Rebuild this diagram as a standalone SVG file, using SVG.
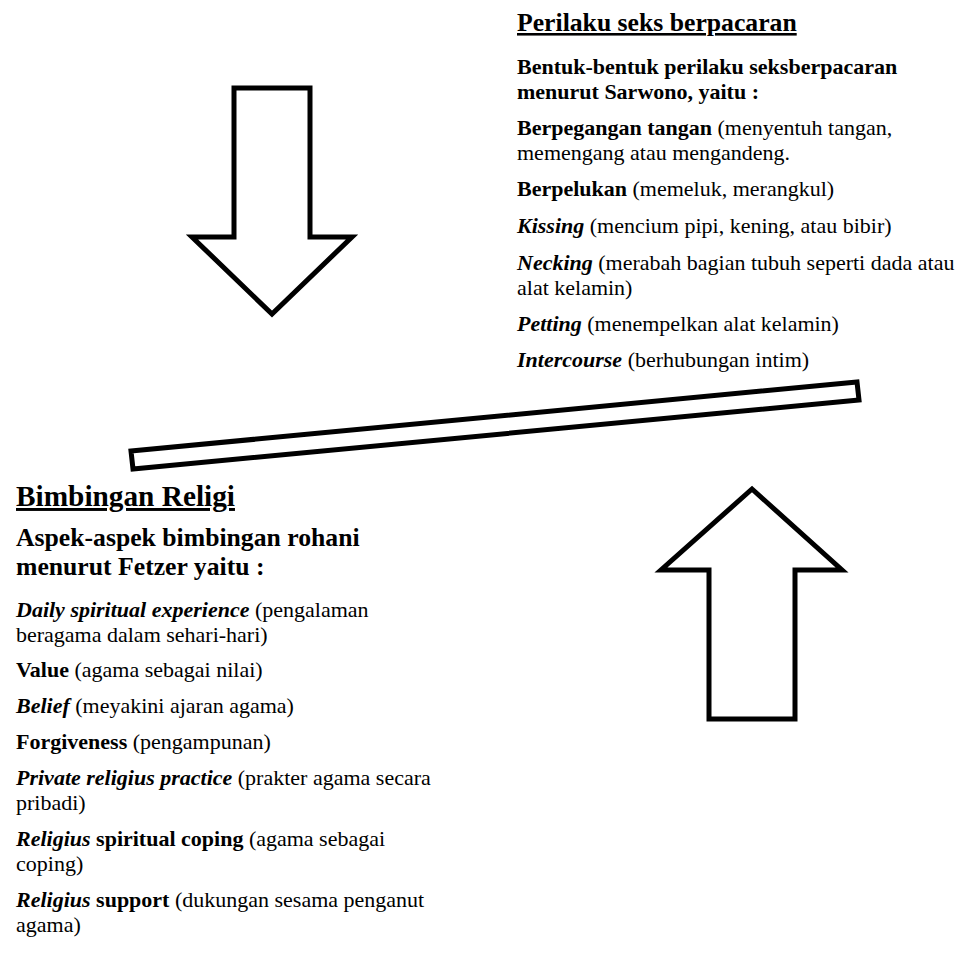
<svg xmlns="http://www.w3.org/2000/svg" width="974" height="968" viewBox="0 0 974 968">
<style>
text{font-family:"Liberation Serif","Times New Roman",serif;fill:#000}
.t{font-weight:bold;text-decoration:underline}
.h{font-size:25.7px;font-weight:bold}
.s{font-size:22px;font-weight:bold}
.b{font-size:22px}
.bo{font-weight:bold}
.bi{font-weight:bold;font-style:italic}
.shape{fill:#fff;stroke:#000;stroke-width:5;stroke-linejoin:miter}
</style>
<rect width="974" height="968" fill="#fff"/>
<g id="connectors">
<polygon class="shape" points="234,88 310,88 310,237 352,237 272,314 192,237 234,237"/>
<polygon class="shape" points="752,489 842,570 795,570 795,719 709,719 709,570 661,570"/>
<polygon class="shape" points="131,451 857,382 859,400 133,469"/>
</g>
<g id="perilaku">
<text class="t" x="517" y="31" font-size="25.7">Perilaku seks berpacaran</text>
<text class="s" x="517" y="74">Bentuk-bentuk perilaku seksberpacaran</text>
<text class="s" x="517" y="99">menurut Sarwono, yaitu :</text>
<text class="b" x="517" y="135"><tspan class="bo">Berpegangan tangan</tspan> (menyentuh tangan,</text>
<text class="b" x="517" y="160">memengang atau mengandeng.</text>
<text class="b" x="517" y="196"><tspan class="bo">Berpelukan</tspan> (memeluk, merangkul)</text>
<text class="b" x="517" y="233"><tspan class="bi">Kissing</tspan> (mencium pipi, kening, atau bibir)</text>
<text class="b" x="517" y="270"><tspan class="bi">Necking</tspan> (merabah bagian tubuh seperti dada atau</text>
<text class="b" x="517" y="295">alat kelamin)</text>
<text class="b" x="517" y="331"><tspan class="bi">Petting</tspan> (menempelkan alat kelamin)</text>
<text class="b" x="517" y="367"><tspan class="bi">Intercourse</tspan> (berhubungan intim)</text>
</g>
<g id="bimbingan">
<text class="t" x="16" y="506" font-size="29.3">Bimbingan Religi</text>
<text class="h" x="16" y="546">Aspek-aspek bimbingan rohani</text>
<text class="h" x="16" y="575">menurut Fetzer yaitu :</text>
<text class="b" x="16" y="617"><tspan class="bi">Daily spiritual experience</tspan> (pengalaman</text>
<text class="b" x="16" y="642">beragama dalam sehari-hari)</text>
<text class="b" x="16" y="677"><tspan class="bo">Value</tspan> (agama sebagai nilai)</text>
<text class="b" x="16" y="713"><tspan class="bi">Belief</tspan> (meyakini ajaran agama)</text>
<text class="b" x="16" y="749"><tspan class="bo">Forgiveness</tspan> (pengampunan)</text>
<text class="b" x="16" y="785"><tspan class="bi">Private religius practice</tspan> (prakter agama secara</text>
<text class="b" x="16" y="810">pribadi)</text>
<text class="b" x="16" y="846"><tspan class="bi">Religius</tspan> <tspan class="bo">spiritual coping</tspan> (agama sebagai</text>
<text class="b" x="16" y="871">coping)</text>
<text class="b" x="16" y="907"><tspan class="bi">Religius</tspan> <tspan class="bo">support</tspan> (dukungan sesama penganut</text>
<text class="b" x="16" y="932">agama)</text>
</g>
</svg>
